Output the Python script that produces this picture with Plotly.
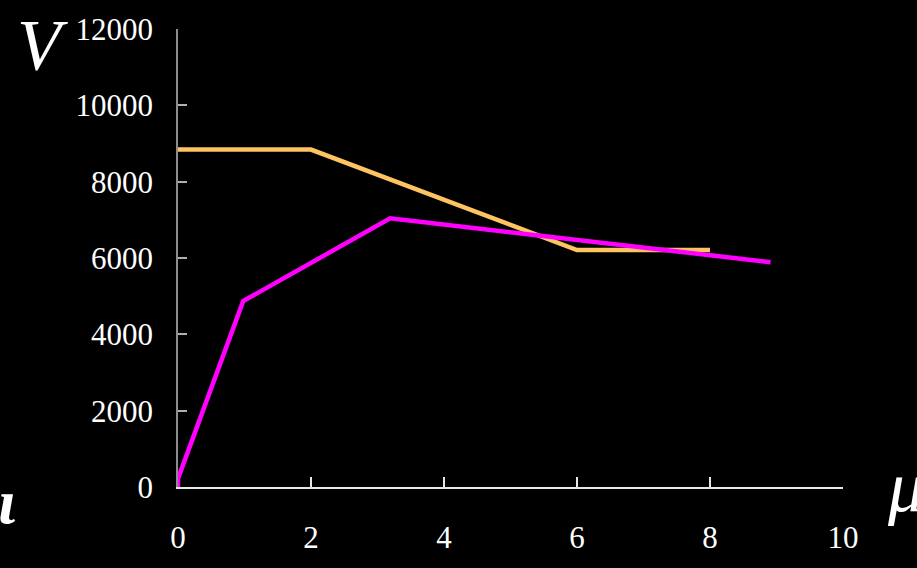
import plotly.graph_objects as go

# Data
orange_x = [0, 2, 6, 8]
orange_y = [8840, 8840, 6210, 6210]
magenta_x = [0, 0, 0.98, 3.19, 8.91]
magenta_y = [0, 220, 4870, 7040, 5890]
x_ticks = [0, 2, 4, 6, 8, 10]
y_ticks = [0, 2000, 4000, 6000, 8000, 10000, 12000]

serif = "Liberation Serif, Times New Roman, serif"

fig = go.Figure()
fig.add_trace(go.Scatter(x=orange_x, y=orange_y, mode="lines",
                         line=dict(color="#FFC462", width=4.5), showlegend=False))
fig.add_trace(go.Scatter(x=magenta_x, y=magenta_y, mode="lines",
                         line=dict(color="#FF00FF", width=4.5), showlegend=False))

fig.update_layout(
    width=917, height=568,
    margin=dict(l=178, r=74, t=27, b=81),
    paper_bgcolor="black", plot_bgcolor="black",
    font=dict(family=serif, color="white", size=31),
    xaxis=dict(range=[0, 10], tickvals=x_ticks, ticktext=[str(v) for v in x_ticks],
               showgrid=False, zeroline=False, showline=True, linecolor="#E6E6E6",
               linewidth=1.5, ticks="inside", ticklen=10, tickcolor="#E6E6E6",
               tickwidth=1.5, ticklabelstandoff=22, fixedrange=True),
    yaxis=dict(range=[0, 12000], tickvals=y_ticks, ticktext=[str(v) for v in y_ticks],
               showgrid=False, zeroline=False, showline=True, linecolor="#8C8C8C",
               linewidth=1.5, ticks="inside", ticklen=9, tickcolor="#B0B0B0",
               tickwidth=1.5, ticklabelstandoff=17, fixedrange=True),
    annotations=[
        dict(text="<i>V</i>", xref="paper", yref="paper", x=-178/665, y=1 + 27/460,
             xanchor="left", yanchor="top", xshift=15, yshift=-1, showarrow=False,
             font=dict(family=serif, size=72, color="white")),
        dict(text="<i><b>ι</b></i>", xref="paper", yref="paper", x=-178/665, y=0,
             xanchor="left", yanchor="top", xshift=-4, yshift=23, showarrow=False,
             font=dict(family=serif, size=64, color="white")),
        dict(text="<i>μ</i>", xref="paper", yref="paper", x=1, y=0,
             xanchor="left", yanchor="top", xshift=42, yshift=42, showarrow=False,
             font=dict(family=serif, size=72, color="white")),
    ],
)

fig.write_html(
    "out.html",
    config={"displayModeBar": False},
    post_script="document.body.style.margin='0';document.body.style.background='black';",
)
